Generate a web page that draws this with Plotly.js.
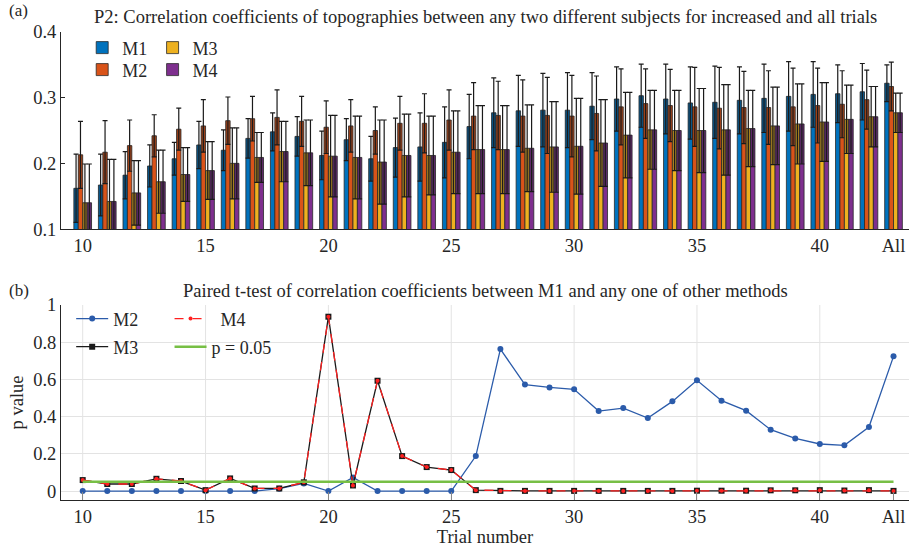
<!DOCTYPE html>
<html>
<head>
<meta charset="utf-8">
<script src="https://cdn.plot.ly/plotly-3.0.1.min.js"></script>
<style>html,body{margin:0;padding:0;background:#fff;}#chart{width:909px;height:549px;}</style>
</head>
<body>
<div id="chart"></div>
<script>
// ---- Data ----
const trials = ['10','11','12','13','14','15','16','17','18','19','20','21','22','23','24','25','26','27','28','29','30','31','32','33','34','35','36','37','38','39','40','41','42','All'];
const tickLabels = ['10','15','20','25','30','35','40','All'];
const gridLabels = ['10','15','20','25','30','35','40'];

// (a) mean correlation coefficients and standard deviations
const m1Mean = [0.162,0.167,0.182,0.196,0.207,0.228,0.220,0.238,0.248,0.241,0.212,0.236,0.207,0.224,0.225,0.232,0.256,0.277,0.280,0.281,0.281,0.287,0.298,0.303,0.298,0.292,0.293,0.296,0.299,0.302,0.305,0.306,0.309,0.322];
const m1Sd   = [0.052,0.047,0.036,0.032,0.025,0.036,0.031,0.030,0.029,0.030,0.037,0.032,0.034,0.045,0.052,0.054,0.049,0.053,0.054,0.056,0.057,0.051,0.049,0.048,0.053,0.055,0.055,0.051,0.052,0.053,0.050,0.044,0.043,0.028];
const m2Mean = [0.213,0.217,0.227,0.242,0.252,0.257,0.265,0.268,0.270,0.264,0.255,0.257,0.250,0.261,0.261,0.266,0.272,0.273,0.272,0.273,0.272,0.276,0.286,0.291,0.288,0.286,0.284,0.285,0.285,0.286,0.288,0.290,0.297,0.317];
const m2Sd   = [0.051,0.048,0.039,0.032,0.032,0.040,0.036,0.034,0.042,0.038,0.040,0.040,0.036,0.041,0.045,0.046,0.051,0.052,0.055,0.058,0.062,0.057,0.058,0.053,0.055,0.060,0.062,0.055,0.056,0.059,0.057,0.051,0.045,0.037];
const m3Mean = [0.140,0.142,0.155,0.172,0.183,0.189,0.200,0.209,0.218,0.216,0.211,0.209,0.202,0.212,0.212,0.217,0.221,0.221,0.223,0.225,0.226,0.231,0.243,0.251,0.250,0.250,0.251,0.253,0.257,0.260,0.263,0.267,0.271,0.277];
const m3Sd   = [0.059,0.064,0.049,0.048,0.041,0.044,0.054,0.038,0.046,0.050,0.062,0.063,0.064,0.063,0.060,0.063,0.067,0.067,0.066,0.069,0.073,0.066,0.065,0.060,0.061,0.064,0.069,0.058,0.059,0.061,0.060,0.052,0.046,0.030];
const m4Mean = [0.140,0.142,0.155,0.172,0.183,0.189,0.200,0.209,0.218,0.216,0.211,0.209,0.202,0.212,0.212,0.217,0.221,0.221,0.223,0.225,0.226,0.231,0.243,0.251,0.250,0.250,0.251,0.253,0.257,0.260,0.263,0.267,0.271,0.277];
const m4Sd   = [0.059,0.064,0.049,0.048,0.041,0.044,0.054,0.038,0.046,0.050,0.062,0.063,0.064,0.063,0.060,0.063,0.067,0.067,0.066,0.069,0.073,0.066,0.065,0.060,0.061,0.064,0.069,0.058,0.059,0.061,0.060,0.052,0.046,0.030];

// (b) p values
const pM2 = [0,0,0,0,0,0,0,0,0.013,0.041,0,0.073,0,0,0,0,0.188,0.763,0.572,0.557,0.547,0.430,0.446,0.392,0.482,0.595,0.486,0.432,0.330,0.283,0.253,0.246,0.344,0.724];
const pM3 = [0.059,0.038,0.038,0.066,0.054,0.005,0.068,0.014,0.014,0.047,0.937,0.030,0.593,0.188,0.129,0.113,0.005,0.001,0.001,0.001,0.001,0.001,0.001,0.001,0.001,0.002,0.002,0.002,0.004,0.004,0.005,0.003,0.005,0.001];
const pM4 = [0.059,0.038,0.038,0.066,0.054,0.005,0.068,0.014,0.014,0.047,0.937,0.030,0.593,0.188,0.129,0.113,0.005,0.001,0.001,0.001,0.001,0.001,0.001,0.001,0.001,0.002,0.002,0.002,0.004,0.004,0.005,0.003,0.005,0.001];
const pThreshold = 0.05;

// ---- Styling ----
const FONT = "'Liberation Serif', 'Times New Roman', serif";
const TXT = '#262626';
const colors = {M1:'#0072BD', M2:'#D95319', M3:'#EDB120', M4:'#7E2F8E'};

const series = [
  {name:'M1', mean:m1Mean, sd:m1Sd, legend:'legend'},
  {name:'M2', mean:m2Mean, sd:m2Sd, legend:'legend2'},
  {name:'M3', mean:m3Mean, sd:m3Sd, legend:'legend3'},
  {name:'M4', mean:m4Mean, sd:m4Sd, legend:'legend4'}
];

const traces = [];
series.forEach(s => {
  traces.push({
    type:'bar', x:trials, y:s.mean, name:s.name, offsetgroup:s.name,
    xaxis:'x', yaxis:'y', legend:s.legend,
    marker:{color:colors[s.name], line:{color:'#2a2a2a', width:0.8}},
    error_y:{type:'data', array:s.sd, visible:true, color:'#1a1a1a', thickness:1.2, width:2.5},
    hoverinfo:'skip'
  });
});
// darkened band from mean-sd to mean
series.forEach(s => {
  traces.push({
    type:'bar', x:trials, y:s.sd, base:s.mean.map((m,i)=>m - s.sd[i]), offsetgroup:s.name,
    xaxis:'x', yaxis:'y', showlegend:false,
    marker:{color:'rgba(30,30,30,0.33)', line:{width:0}},
    hoverinfo:'skip'
  });
});

// bottom chart
traces.push({
  type:'scatter', mode:'lines+markers', x:trials, y:pM2, name:'M2', xaxis:'x2', yaxis:'y2',
  legend:'legend5',
  line:{color:'#2B5BAA', width:1.3}, marker:{color:'#2B5BAA', size:6, symbol:'circle'}
});
traces.push({
  type:'scatter', mode:'lines+markers', x:trials, y:pM3, name:'M3', xaxis:'x2', yaxis:'y2',
  legend:'legend6',
  line:{color:'#1a1a1a', width:1.3}, marker:{color:'#1a1a1a', size:6, symbol:'square'}
});
traces.push({
  type:'scatter', mode:'lines+markers', x:trials, y:pM4, name:'\u00a0\u00a0M4', xaxis:'x2', yaxis:'y2',
  legend:'legend7',
  line:{color:'#FF2020', width:1.3, dash:'dash'}, marker:{color:'#FF2020', size:4, symbol:'circle'}
});
traces.push({
  type:'scatter', mode:'lines', x:trials, y:trials.map(()=>pThreshold), name:'p = 0.05', xaxis:'x2', yaxis:'y2',
  legend:'legend8',
  line:{color:'#77BF45', width:2.5}
});

const xRange = [-0.883, 33.63];
const axisCommon = {
  showline:true, linecolor:TXT, linewidth:1, mirror:false,
  tickfont:{family:FONT, size:18.5, color:TXT}, zeroline:false
};

const gridShapes = gridLabels.map(lbl => ({
  type:'line', xref:'x2', yref:'y2 domain', x0:trials.indexOf(lbl), x1:trials.indexOf(lbl), y0:0, y1:1,
  line:{color:'#E3E3E3', width:1}, layer:'below'
}));

function leg(x, y, extra) {
  return Object.assign({
    font:{family:FONT, size:18, color:TXT}, bgcolor:'rgba(0,0,0,0)', borderwidth:0,
    xanchor:'left', yanchor:'middle', orientation:'v', x:x, y:y
  }, extra || {});
}

const layout = {
  width:909, height:549,
  margin:{l:61, r:0, t:32, b:49},
  paper_bgcolor:'#fff', plot_bgcolor:'rgba(0,0,0,0)',
  font:{family:FONT, color:TXT},
  barmode:'group', bargap:0.28, bargroupgap:0,
  xaxis:Object.assign({}, axisCommon, {
    domain:[0,1], anchor:'y', type:'category', range:xRange,
    tickmode:'array', tickvals:tickLabels, ticktext:tickLabels, ticks:'', showgrid:false
  }),
  yaxis:Object.assign({}, axisCommon, {
    domain:[0.579,1], anchor:'x', range:[0.1,0.4], dtick:0.1, tickformat:'.1f',
    ticks:'inside', ticklen:4, tickcolor:TXT, showgrid:false
  }),
  xaxis2:Object.assign({}, axisCommon, {
    domain:[0,1], anchor:'y2', type:'category', range:xRange,
    tickmode:'array', tickvals:tickLabels, ticktext:tickLabels, ticks:'inside', ticklen:8, tickcolor:'#888',
    showgrid:false,
    title:{text:'Trial number', font:{family:FONT, size:18.5, color:TXT}, standoff:0}
  }),
  yaxis2:Object.assign({}, axisCommon, {
    domain:[0,0.4167], anchor:'x2', range:[-0.048,1], dtick:0.2, tickmode:'linear', tick0:0,
    ticks:'', showgrid:true, gridcolor:'#E3E3E3', gridwidth:1,
    title:{text:'p value', font:{family:FONT, size:18.5, color:TXT}, standoff:4}
  }),
  shapes:gridShapes,
  legend:leg(0.025, 0.966),
  legend2:leg(0.025, 0.919),
  legend3:leg(0.108, 0.966),
  legend4:leg(0.108, 0.919),
  legend5:leg(0.012, 0.387, {itemwidth:32}),
  legend6:leg(0.012, 0.327, {itemwidth:32}),
  legend7:leg(0.128, 0.387, {itemwidth:32}),
  legend8:leg(0.128, 0.327, {itemwidth:32}),
  annotations:[
    {text:'(a)', xref:'paper', yref:'paper', x:-0.064, y:1.047, xanchor:'left', yanchor:'middle', showarrow:false, font:{family:FONT, size:17, color:TXT}},
    {text:'P2: Correlation coefficients of topographies between any two different subjects for increased and all trials', xref:'paper', yref:'paper', x:0.5, y:1.033, xanchor:'center', yanchor:'middle', showarrow:false, font:{family:FONT, size:18.5, color:TXT}},
    {text:'(b)', xref:'paper', yref:'paper', x:-0.064, y:0.4466, xanchor:'left', yanchor:'middle', showarrow:false, font:{family:FONT, size:17, color:TXT}},
    {text:'Paired t-test of correlation coefficients between M1 and any one of other methods', xref:'paper', yref:'paper', x:0.5, y:0.4466, xanchor:'center', yanchor:'middle', showarrow:false, font:{family:FONT, size:18.5, color:TXT}}
  ],
  showlegend:true
};

Plotly.newPlot('chart', traces, layout, {displayModeBar:false, staticPlot:true});
</script>
</body>
</html>
